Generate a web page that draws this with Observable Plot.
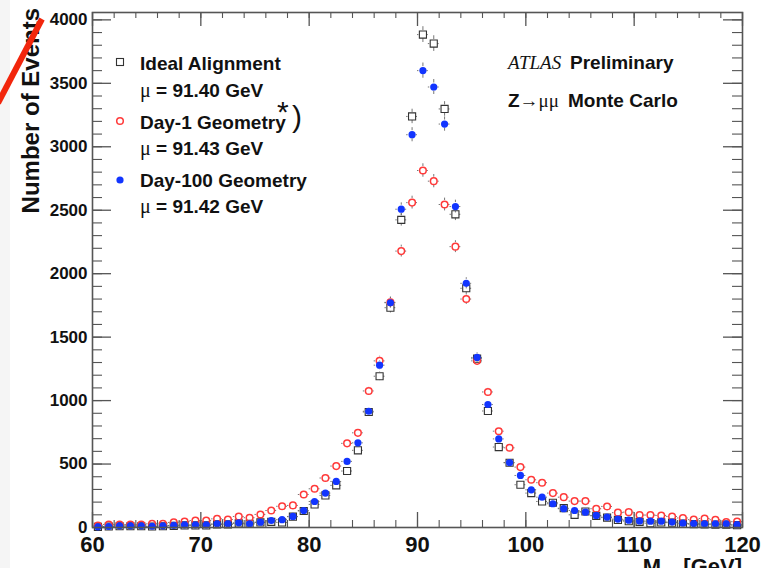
<!DOCTYPE html>
<html><head><meta charset="utf-8">
<script src="https://cdn.jsdelivr.net/npm/d3@7"></script>
<script src="https://cdn.jsdelivr.net/npm/@observablehq/plot@0.6"></script>
<style>
html,body{margin:0;padding:0;background:#fff;}
#chart{width:778px;height:568px;overflow:hidden;}
</style></head><body><div id="chart"></div>
<script>
// ---- data ----
const binCenters = [60.5,61.5,62.5,63.5,64.5,65.5,66.5,67.5,68.5,69.5,70.5,71.5,72.5,73.5,74.5,75.5,76.5,77.5,78.5,79.5,
  80.5,81.5,82.5,83.5,84.5,85.5,86.5,87.5,88.5,89.5,90.5,91.5,92.5,93.5,94.5,95.5,96.5,97.5,98.5,99.5,
  100.5,101.5,102.5,103.5,104.5,105.5,106.5,107.5,108.5,109.5,110.5,111.5,112.5,113.5,114.5,115.5,116.5,117.5,118.5,119.5];
const idealCounts = [5,8,10,10,10,8,10,13,16,16,16,24,24,32,29,40,45,40,85,130,
  182,253,332,445,608,910,1192,1732,2424,3239,3884,3813,3298,2468,1885,1330,918,634,510,337,
  271,205,195,152,100,126,92,78,60,50,45,34,40,38,30,26,24,22,22,18];
const day1Counts = [16,24,24,24,24,29,29,40,47,55,55,68,63,87,77,103,134,167,174,260,
  305,390,484,663,746,1076,1313,1774,2178,2560,2813,2729,2545,2213,1800,1313,1068,759,628,476,
  376,353,271,239,208,208,148,166,117,121,98,98,95,87,75,62,71,61,42,46];
const day100Counts = [5,8,13,13,13,10,13,16,21,21,21,29,29,37,29,42,55,62,87,134,
  205,271,363,521,667,916,1279,1771,2508,3095,3600,3471,3179,2529,1924,1340,969,698,512,410,
  297,239,187,148,134,121,95,82,66,58,52,50,50,43,34,31,29,29,29,22];
const seriesNames = ["Ideal Alignment","Day-1 Geometry","Day-100 Geometry"];
const seriesMeans = ["91.40","91.43","91.42"];
const xMajorTicks = [60,70,80,90,100,110,120];
const xMinorTicks = [60,62,64,66,68,70,72,74,76,78,80,82,84,86,88,90,92,94,96,98,100,102,104,106,108,110,112,114,116,118,120];
const yMajorTicks = [0,500,1000,1500,2000,2500,3000,3500,4000];
const yMinorTicks = [0,100,200,300,400,500,600,700,800,900,1000,1100,1200,1300,1400,1500,1600,1700,1800,1900,2000,
  2100,2200,2300,2400,2500,2600,2700,2800,2900,3000,3100,3200,3300,3400,3500,3600,3700,3800,3900,4000];

// ---- layout ----
const W = 778, H = 568, mL = 92, mR = 36, mT = 12, mB = 41;
const xDom = [60, 120], yDom = [0, 4058];
const pxX = (W - mL - mR) / (xDom[1] - xDom[0]);
const pxY = (H - mT - mB) / (yDom[1] - yDom[0]);
const SANS = "'Liberation Sans', Arial, Helvetica, sans-serif";
const SERIF = "'Liberation Serif', 'DejaVu Serif', serif";
const axisCol = "#555", errCol = "#666";
const colIdeal = "#333", colDay1 = "#ff3a3a", colDay100 = "#1235ff";

const rows = counts => binCenters.map((m, i) => ({m, n: counts[i], e: Math.sqrt(counts[i])}));
const ideal = rows(idealCounts), day1 = rows(day1Counts), day100 = rows(day100Counts);
// error bars with a gap around the marker (ROOT style)
const gapX = 4 / pxX, gapY = 4 / pxY;
const errs = data => {
  const vert = data.filter(d => d.e > gapY);
  return [
    Plot.ruleX(vert, {x: "m", y1: d => d.n + gapY, y2: d => d.n + d.e, stroke: errCol, strokeWidth: 0.9}),
    Plot.ruleX(vert, {x: "m", y1: d => Math.max(0, d.n - d.e), y2: d => Math.max(0, d.n - gapY), stroke: errCol, strokeWidth: 0.9}),
    Plot.ruleY(data, {y: "n", x1: d => d.m - 0.5, x2: d => d.m - gapX, stroke: errCol, strokeWidth: 0.9}),
    Plot.ruleY(data, {y: "n", x1: d => d.m + gapX, x2: d => d.m + 0.5, stroke: errCol, strokeWidth: 0.9})
  ];
};

const svgEl = Plot.plot({
  width: W, height: H,
  marginLeft: mL, marginRight: mR, marginTop: mT, marginBottom: mB,
  style: {fontFamily: SANS, color: "#111", background: "white"},
  x: {domain: xDom, label: null},
  y: {domain: yDom, label: null},
  marks: [
    // inward ticks on all four sides
    Plot.ruleY(yMajorTicks, {y: d => d, x1: 60, x2: 60 + 19 / pxX, stroke: axisCol, strokeWidth: 1.3}),
    Plot.ruleY(yMinorTicks, {y: d => d, x1: 60, x2: 60 + 10 / pxX, stroke: axisCol, strokeWidth: 1.1}),
    Plot.ruleY(yMajorTicks, {y: d => d, x1: 120 - 19 / pxX, x2: 120, stroke: axisCol, strokeWidth: 1.3}),
    Plot.ruleY(yMinorTicks, {y: d => d, x1: 120 - 10 / pxX, x2: 120, stroke: axisCol, strokeWidth: 1.1}),
    Plot.ruleX(xMajorTicks, {x: d => d, y1: 0, y2: 15 / pxY, stroke: axisCol, strokeWidth: 1.3}),
    Plot.ruleX(xMinorTicks, {x: d => d, y1: 0, y2: 7 / pxY, stroke: axisCol, strokeWidth: 1.1}),
    Plot.ruleX(xMajorTicks, {x: d => d, y1: yDom[1], y2: yDom[1] - 14 / pxY, stroke: axisCol, strokeWidth: 1.3}),
    Plot.ruleX(xMinorTicks, {x: d => d, y1: yDom[1], y2: yDom[1] - 6 / pxY, stroke: axisCol, strokeWidth: 1.1}),
    Plot.axisY({ticks: yMajorTicks, tickSize: 0, tickPadding: 5, tickFormat: d => String(d), fontSize: 17, fontWeight: "bold", label: null}),
    Plot.axisX({ticks: xMajorTicks, tickSize: 0, tickPadding: 9, tickFormat: d => String(d), fontSize: 22, fontWeight: "bold", label: null}),
    // series
    ...errs(ideal),
    Plot.dot(ideal, {x: "m", y: "n", symbol: "square", r: 4, stroke: colIdeal, strokeWidth: 1.1, fill: "none"}),
    ...errs(day1),
    Plot.dot(day1, {x: "m", y: "n", symbol: "circle", r: 3.3, stroke: colDay1, strokeWidth: 1.5, fill: "none"}),
    ...errs(day100),
    Plot.dot(day100, {x: "m", y: "n", symbol: "circle", r: 3.6, fill: colDay100, stroke: "none"}),
    Plot.frame({stroke: axisCol, strokeWidth: 1.6})
  ]
});
document.getElementById("chart").appendChild(svgEl);

const svg = d3.select(svgEl);
// faint grey strip at the left edge of the page
svg.insert("rect", ":first-child").attr("x", 0).attr("y", 0).attr("width", 10).attr("height", H).attr("fill", "#f5f5f5");

const ann = svg.append("g").attr("fill", "#111").attr("text-anchor", "start");
// y-axis title
ann.append("text").attr("transform", "translate(38.5,8) rotate(-90)")
  .attr("text-anchor", "end").attr("font-family", SANS).attr("font-weight", "bold").attr("font-size", 24)
  .text("Number of Events");
// x-axis title (cut off at the bottom, as in the reference)
const xt = ann.append("text").attr("x", 742).attr("y", 574).attr("text-anchor", "end")
  .attr("font-family", SANS).attr("font-weight", "bold").attr("font-size", 22);
xt.append("tspan").text("M");
xt.append("tspan").attr("font-family", SERIF).attr("font-weight", "normal").attr("font-size", 15).attr("dy", 5).text("μμ");
xt.append("tspan").attr("dy", -5).text(" [GeV]");

// legend
const leg = svg.append("g").attr("text-anchor", "start");
leg.append("rect").attr("x", 116.5).attr("y", 58.5).attr("width", 7).attr("height", 7).attr("fill", "none").attr("stroke", colIdeal).attr("stroke-width", 1.1);
leg.append("circle").attr("cx", 120).attr("cy", 121).attr("r", 3.3).attr("fill", "none").attr("stroke", colDay1).attr("stroke-width", 1.5);
leg.append("circle").attr("cx", 120).attr("cy", 180).attr("r", 3.6).attr("fill", colDay100);
const nameY = [70, 128.5, 187], meanY = [96.5, 155, 213];
seriesNames.forEach((name, i) => {
  leg.append("text").attr("x", 140).attr("y", nameY[i]).attr("font-family", SANS).attr("font-weight", "bold")
    .attr("font-size", 19).attr("fill", "#111").text(name);
  const t = leg.append("text").attr("x", 140).attr("y", meanY[i]).attr("font-family", SANS).attr("font-weight", "bold")
    .attr("font-size", 19).attr("fill", "#111");
  t.append("tspan").attr("font-family", SERIF).attr("font-weight", "normal").attr("font-size", 20).text("μ");
  t.append("tspan").text(" = " + seriesMeans[i] + " GeV");
});
// "*)" annotation
ann.append("text").attr("x", 277).attr("y", 122).attr("font-family", SANS).attr("font-size", 30).text("*");
ann.append("text").attr("x", 292).attr("y", 127).attr("font-family", SANS).attr("font-size", 30).text(")");

// ATLAS labels
ann.append("text").attr("x", 508).attr("y", 68.5).attr("font-family", SERIF).attr("font-style", "italic")
  .attr("font-size", 19).text("ATLAS");
ann.append("text").attr("x", 570).attr("y", 68.5).attr("font-family", SANS).attr("font-weight", "bold")
  .attr("font-size", 19).text("Preliminary");
const zt = ann.append("text").attr("x", 508).attr("y", 106.5).attr("font-family", SANS).attr("font-weight", "bold").attr("font-size", 19);
zt.append("tspan").text("Z");
zt.append("tspan").attr("font-family", SERIF).attr("font-weight", "normal").text("→μμ");
ann.append("text").attr("x", 568).attr("y", 106.5).attr("font-family", SANS).attr("font-weight", "bold")
  .attr("font-size", 19).text("Monte Carlo");

// red slash annotation
svg.append("line").attr("x1", -2).attr("y1", 103).attr("x2", 42).attr("y2", 19)
  .attr("stroke", "#f2260c").attr("stroke-width", 6);
</script></body></html>
